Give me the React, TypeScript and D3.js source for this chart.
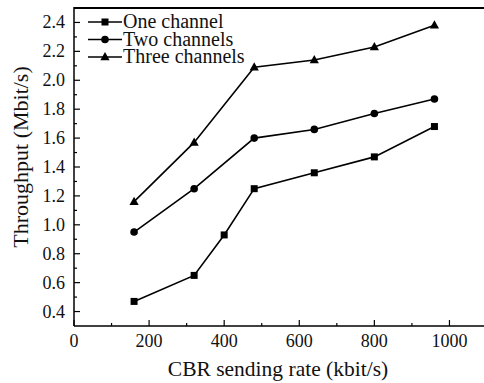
import React from "react";
import * as d3 from "d3";

const rates = [160, 320, 400, 480, 640, 800, 960];
const oneChannel = [0.47, 0.65, 0.93, 1.25, 1.36, 1.47, 1.68];
const twoRates = [160, 320, 480, 640, 800, 960];
const twoChannels = [0.95, 1.25, 1.6, 1.66, 1.77, 1.87];
const threeChannels = [1.16, 1.57, 2.09, 2.14, 2.23, 2.38];
const seriesNames = ["One channel", "Two channels", "Three channels"];
const xTicks = [0, 200, 400, 600, 800, 1000];
const yTicks = [0.4, 0.6, 0.8, 1.0, 1.2, 1.4, 1.6, 1.8, 2.0, 2.2, 2.4];

const W = 484;
const H = 383;
const left = 74;
const right = 487;
const top = 8;
const bottom = 326;
const font = "'Liberation Serif', 'Times New Roman', serif";

type Shape = "square" | "circle" | "triangle";

function Marker({ x, y, shape }: { x: number; y: number; shape: Shape }) {
  if (shape === "square") return <rect x={x - 3.5} y={y - 3.5} width={7} height={7} fill="#000" />;
  if (shape === "circle") return <circle cx={x} cy={y} r={3.8} fill="#000" />;
  return <path d={`M${x},${y - 5} L${x + 4.6},${y + 3.2} L${x - 4.6},${y + 3.2} Z`} fill="#000" />;
}

export default function App() {
  const xs = d3.scaleLinear().domain([0, 1100]).range([left, right]);
  const ys = d3.scaleLinear().domain([0.3, 2.5]).range([bottom, top]);
  const line = d3
    .line<[number, number]>()
    .x((d) => xs(d[0]))
    .y((d) => ys(d[1]));

  const series: { name: string; xs: number[]; ys: number[]; shape: Shape }[] = [
    { name: seriesNames[0], xs: rates, ys: oneChannel, shape: "square" },
    { name: seriesNames[1], xs: twoRates, ys: twoChannels, shape: "circle" },
    { name: seriesNames[2], xs: twoRates, ys: threeChannels, shape: "triangle" },
  ];

  const xMinor = d3.range(100, 1100, 200);
  const yMinor = d3.range(0.5, 2.5, 0.2);

  return (
    <svg
      width={W}
      height={H}
      style={{ position: "absolute", left: 0, top: 0, background: "#fff", fontFamily: font }}
    >
      {/* frame */}
      <line x1={left} y1={top} x2={W} y2={top} stroke="#000" strokeWidth={2} />
      <line x1={left} y1={top - 1} x2={left} y2={bottom} stroke="#000" strokeWidth={1.5} />
      <line x1={left} y1={bottom} x2={W} y2={bottom} stroke="#000" strokeWidth={1.5} />

      {/* x ticks */}
      {xTicks.map((t) => (
        <g key={"x" + t}>
          <line x1={xs(t)} x2={xs(t)} y1={bottom} y2={bottom - 6} stroke="#000" strokeWidth={1.2} />
          <text x={xs(t)} y={347} textAnchor="middle" fontSize={18} fill="#111">
            {t}
          </text>
        </g>
      ))}
      {xMinor.map((t) => (
        <line key={"xm" + t} x1={xs(t)} x2={xs(t)} y1={bottom} y2={bottom - 3} stroke="#000" strokeWidth={1.2} />
      ))}

      {/* y ticks */}
      {yTicks.map((t) => (
        <g key={"y" + t}>
          <line x1={left} x2={left + 6} y1={ys(t)} y2={ys(t)} stroke="#000" strokeWidth={1.2} />
          <text x={65} y={ys(t) + 6} textAnchor="end" fontSize={18} fill="#111">
            {t.toFixed(1)}
          </text>
        </g>
      ))}
      {yMinor.map((t) => (
        <line key={"ym" + t} x1={left} x2={left + 3} y1={ys(t)} y2={ys(t)} stroke="#000" strokeWidth={1.2} />
      ))}

      {/* axis titles */}
      <text x={278} y={376} textAnchor="middle" fontSize={21.5} fill="#111">
        CBR sending rate (kbit/s)
      </text>
      <text
        transform={`translate(28,157) rotate(-90)`}
        textAnchor="middle"
        fontSize={22}
        fill="#111"
      >
        Throughput (Mbit/s)
      </text>

      {/* series */}
      {series.map((s) => {
        const pts = s.xs.map((x, i) => [x, s.ys[i]] as [number, number]);
        return (
          <g key={s.name}>
            <path d={line(pts) || ""} fill="none" stroke="#000" strokeWidth={1.6} />
            {pts.map((p, i) => (
              <Marker key={i} x={xs(p[0])} y={ys(p[1])} shape={s.shape} />
            ))}
          </g>
        );
      })}

      {/* legend */}
      {series.map((s, i) => {
        const y = 22 + i * 17.5;
        return (
          <g key={"lg" + s.name}>
            <line x1={88} x2={122} y1={y} y2={y} stroke="#000" strokeWidth={1.6} />
            <Marker x={105} y={y} shape={s.shape} />
            <text x={123} y={y + 6} fontSize={20} fill="#111">
              {s.name}
            </text>
          </g>
        );
      })}
    </svg>
  );
}
